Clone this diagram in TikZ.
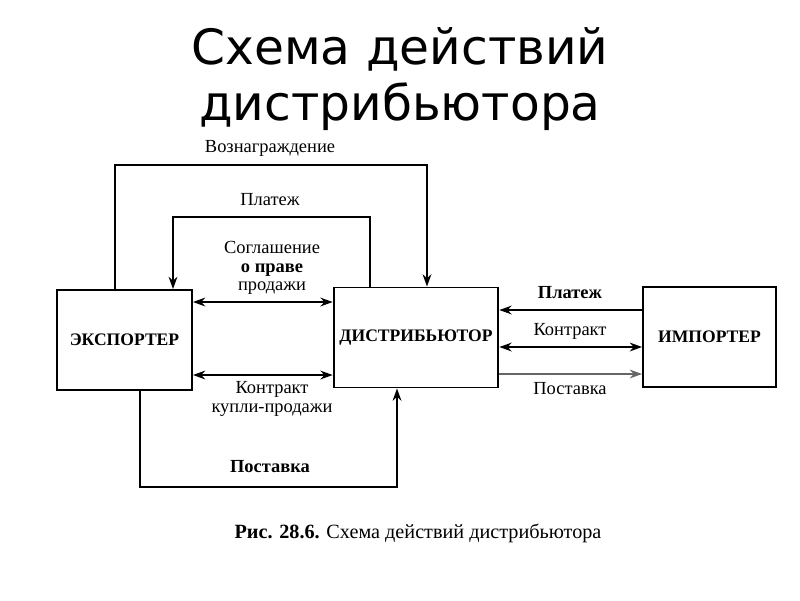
\documentclass[tikz,border=0pt]{standalone}
\usepackage{fontspec}
\setmainfont{Liberation Serif}
\newfontfamily\titlefont{DejaVu Sans}
\usetikzlibrary{arrows.meta}
\tikzstyle{party} = [rectangle, minimum width=2.7cm, minimum height=2cm, text centered, draw=black, line width=1.1pt, font=\bfseries\fontsize{10}{12}\selectfont]
\tikzstyle{flowtext} = [inner sep=0pt, align=center, font=\fontsize{10.5}{10.5}\selectfont]
\tikzstyle{boldtext} = [inner sep=0pt, align=center, font=\bfseries\fontsize{10.5}{10.5}\selectfont]
\tikzstyle{arrow} = [line width=1pt,-{Stealth[length=7pt,width=5pt]}]
\tikzstyle{dblarrow} = [line width=1pt,{Stealth[length=7pt,width=5pt]}-{Stealth[length=7pt,width=5pt]}]

\begin{document}
\begin{tikzpicture}[x=0.02cm, y=-0.02cm]
			\useasboundingbox (0,0) rectangle (800,600);
			\node (title) [align=center, font=\titlefont\fontsize{27.7}{31.5}\selectfont] at (400,79) {Схема действий\\дистрибьютора};

			\node (exporter) [party] at (124.5,340) {ЭКСПОРТЕР};
			\node (distributor) [party, minimum width=3.24cm] at (416,337.5) {ДИСТРИБЬЮТОР};
			\node (importer) [party, minimum width=2.66cm] at (709.5,337) {ИМПОРТЕР};

			\node (rewardtext) [flowtext] at (270,148) {Вознаграждение};
			\node (paytext) [flowtext] at (270,200) {Платеж};
			\node (agreetext) [flowtext] at (272,268) {Соглашение\\\textbf{о праве}\\продажи};
			\node (contracttext) [flowtext] at (272,399) {Контракт\\купли-продажи};
			\node (supplytext) [boldtext] at (270,467) {Поставка};
			\node (ipaytext) [boldtext] at (570,293) {Платеж};
			\node (icontracttext) [flowtext] at (570,331) {Контракт};
			\node (isupplytext) [flowtext] at (570,389) {Поставка};
			\node (figcaption) [font=\fontsize{11.5}{14}\selectfont] at (418,533) {\textbf{Рис. 28.6.} Схема действий дистрибьютора};

			\coordinate (rewardL) at (115,165);
			\coordinate (rewardR) at (427,165);
			\coordinate (payL) at (173,217);
			\coordinate (payR) at (370,217);
			\coordinate (supplyL) at (140,487);
			\coordinate (supplyR) at (397,487);
			\coordinate (agree) at (0,302);
			\coordinate (contract) at (0,375);
			\coordinate (ipay) at (0,310);
			\coordinate (icontract) at (0,347);
			\coordinate (isupply) at (0,374);

			\draw [arrow] (exporter.north -| rewardL) -- (rewardL) -- (rewardR) -- (distributor.north -| rewardR);
			\draw [arrow] (distributor.north -| payR) -- (payR) -- (payL) -- (exporter.north -| payL);
			\draw [arrow] (exporter.south -| supplyL) -- (supplyL) -- (supplyR) -- (distributor.south -| supplyR);
			\draw [dblarrow] (exporter.east |- agree) -- (distributor.west |- agree);
			\draw [dblarrow] (exporter.east |- contract) -- (distributor.west |- contract);
			\draw [arrow] (importer.west |- ipay) -- (distributor.east |- ipay);
			\draw [dblarrow] (distributor.east |- icontract) -- (importer.west |- icontract);
			\draw [arrow, black!60] (distributor.east |- isupply) -- (importer.west |- isupply);
		\end{tikzpicture}
\end{document}
